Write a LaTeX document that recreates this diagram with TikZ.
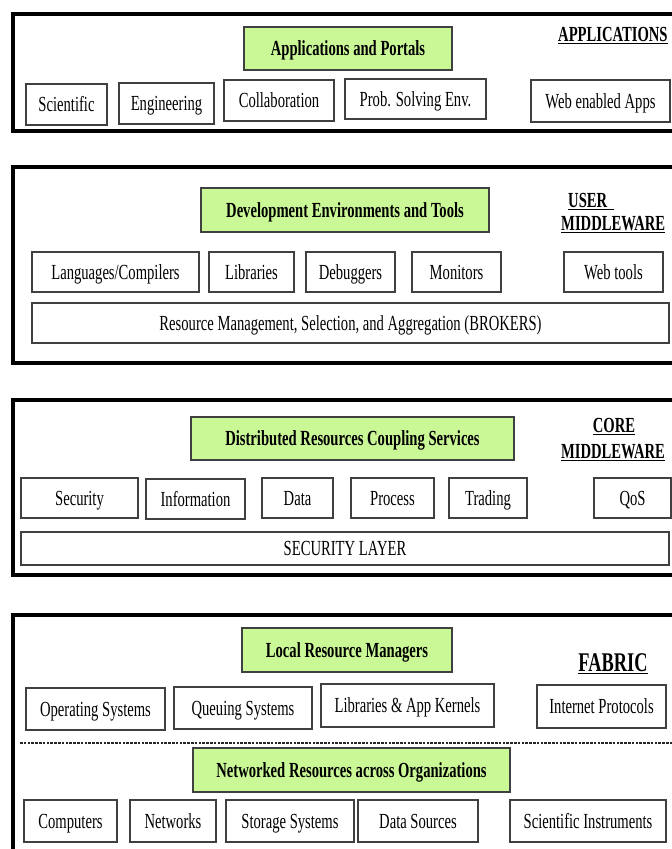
\documentclass[tikz,border=0pt]{standalone}
\usepackage{fontspec}
\setmainfont[FakeStretch=0.68]{Liberation Serif}
\definecolor{lgreen}{RGB}{202,248,150}
\newcommand\myul[1]{\setbox0\hbox{#1}\rlap{\rule[-3.4pt]{\wd0}{1.7pt}}\box0}
\newcommand\bx[7]{\node[#6, minimum width={#4-#2}, minimum height={#5-#3}] (#1) at ({(#2+#4)/2},{(#3+#5)/2}) {#7};}
\begin{document}
\begin{tikzpicture}[x=1pt,y=-1pt,
  every node/.style={font=\fontsize{21.5}{24}\selectfont, inner sep=0pt},
  layer/.style={draw=black, line width=3.5pt},
  boxtext/.style={text height=14.5pt, text depth=0.5pt},
  wbox/.style={boxtext, draw=black!75, line width=1.4pt, fill=white},
  gbox/.style={boxtext, draw=black!75, line width=1.4pt, fill=lgreen, font=\fontsize{21.5}{24}\selectfont\bfseries},
  hdr/.style={font=\fontsize{21.5}{24}\selectfont\bfseries},
  bighdr/.style={font=\fontsize{27}{30}\selectfont\bfseries},
  dashline/.style={draw=black!85, line width=2.6pt, dash pattern=on 2.6pt off 1.2pt}]
\useasboundingbox (0,0) rectangle (672,849);
\fill[white] (0,0) rectangle (672,849);
\clip (0,0) rectangle (672,849);
% Layer 1
\bx{L1}{13}{14}{675}{131}{layer}{}
\bx{g1}{244}{27}{452}{70}{gbox}{Applications and Portals}
\bx{sci}{26}{84}{107}{125}{wbox}{Scientific}
\bx{eng}{119}{83}{214}{124}{wbox}{Engineering}
\bx{col}{224}{80}{334}{121}{wbox}{Collaboration}
\bx{pse}{345}{79}{486}{119}{wbox}{Prob. Solving Env.}
\bx{web}{531}{80}{670}{122}{wbox}{Web enabled Apps}
\node[hdr, anchor=base west] (h1) at (558,41) {\myul{APPLICATIONS}};
% Layer 2
\bx{L2}{13}{167}{675}{363}{layer}{}
\bx{g2}{201}{188}{489}{232}{gbox}{Development Environments and Tools}
\bx{lang}{32}{252}{199}{292}{wbox}{Languages/Compilers}
\bx{lib}{209}{252}{294}{292}{wbox}{Libraries}
\bx{dbg}{306}{252}{395}{292}{wbox}{Debuggers}
\bx{mon}{412}{252}{501}{292}{wbox}{Monitors}
\bx{wt}{564}{252}{663}{292}{wbox}{Web tools}
\bx{brk}{32}{303}{669}{343}{wbox}{Resource Management, Selection, and Aggregation (BROKERS)}
\node[hdr, anchor=base west] (h2a) at (568,207) {\myul{USER\,\,}};
\node[hdr, anchor=base west] (h2b) at (561,230) {\myul{MIDDLEWARE}};
% Layer 3
\bx{L3}{13}{400}{675}{575}{layer}{}
\bx{g3}{191}{417}{514}{460}{gbox}{Distributed Resources Coupling Services}
\bx{sec}{21}{478}{138}{518}{wbox}{Security}
\bx{inf}{146}{479}{245}{519}{wbox}{Information}
\bx{dat}{262}{478}{333}{518}{wbox}{Data}
\bx{pro}{351}{478}{434}{518}{wbox}{Process}
\bx{tra}{449}{478}{527}{518}{wbox}{Trading}
\bx{qos}{594}{478}{671}{518}{wbox}{QoS}
\bx{sl}{21}{532}{669}{565}{wbox}{SECURITY LAYER}
\node[hdr, anchor=base] (h3a) at (614,432) {\myul{CORE}};
\node[hdr, anchor=base] (h3b) at (613,458) {\myul{MIDDLEWARE}};
% Layer 4
\bx{L4}{13}{615}{675}{880}{layer}{}
\bx{g4}{242}{628}{452}{672}{gbox}{Local Resource Managers}
\bx{os}{26}{688}{165}{730}{wbox}{Operating Systems}
\bx{qs}{174}{687}{312}{729}{wbox}{Queuing Systems}
\bx{lak}{321}{684}{494}{727}{wbox}{Libraries \& App Kernels}
\bx{ip}{537}{685}{666}{728}{wbox}{Internet Protocols}
\node[bighdr, anchor=base] (h4) at (613,671) {\myul{FABRIC}};
\coordinate (dl) at (20,743);
\coordinate (dr) at (672,743);
\draw[dashline] (dl) -- (dr);
\bx{g5}{193}{748}{510}{792}{gbox}{Networked Resources across Organizations}
\bx{comp}{24}{800}{117}{842}{wbox}{Computers}
\bx{net}{130}{800}{216}{842}{wbox}{Networks}
\bx{sto}{226}{800}{354}{842}{wbox}{Storage Systems}
\bx{dsrc}{358}{800}{478}{842}{wbox}{Data Sources}
\bx{sci2}{510}{800}{666}{842}{wbox}{Scientific Instruments}
\end{tikzpicture}
\end{document}
